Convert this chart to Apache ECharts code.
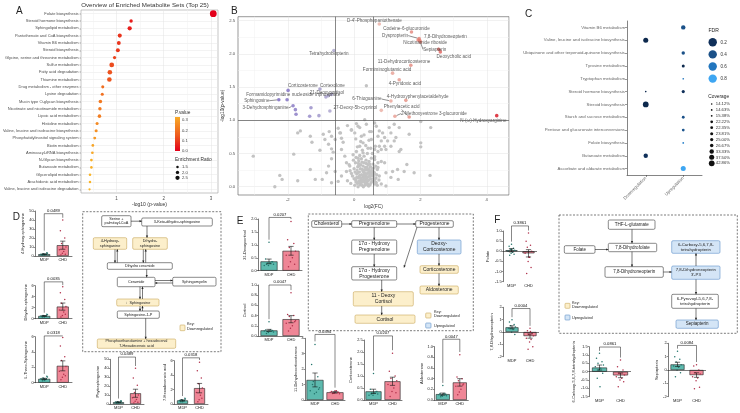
<!DOCTYPE html>
<html>
<head>
<meta charset="utf-8">
<script src="https://cdn.jsdelivr.net/npm/echarts@6/dist/echarts.min.js"></script>
<style>
html,body{margin:0;padding:0;background:#ffffff;}
#c{width:740px;height:413px;}
</style>
</head>
<body>
<div id="c"></div>
<script>
// ================= DATA =================
// ---- Panel A : enriched metabolite sets ----
const aPathways = ['Folate biosynthesis','Steroid hormone biosynthesis','Sphingolipid metabolism','Pantothenate and CoA biosynthesis','Vitamin B6 metabolism','Steroid biosynthesis','Glycine, serine and threonine metabolism','Sulfur metabolism','Fatty acid degradation','Thiamine metabolism','Drug metabolism - other enzymes','Lysine degradation','Mucin type O-glycan biosynthesis','Nicotinate and nicotinamide metabolism','Lipoic acid metabolism','Histidine metabolism','Valine, leucine and isoleucine biosynthesis','Phosphatidylinositol signaling system','Biotin metabolism','Aminoacyl-tRNA biosynthesis','N-Glycan biosynthesis','Butanoate metabolism','Glycerolipid metabolism','Arachidonic acid metabolism','Valine, leucine and isoleucine degradation'];
const aLogP = [3.05,1.31,1.28,1.07,1.05,1.03,0.96,0.90,0.86,0.85,0.71,0.70,0.66,0.65,0.64,0.59,0.57,0.54,0.50,0.49,0.47,0.47,0.44,0.44,0.43];
const aRatio = [4.0,2.0,2.5,2.4,2.3,2.3,1.9,2.8,2.7,2.7,1.8,1.8,2.1,2.0,2.1,1.8,1.8,1.7,1.6,1.6,1.6,1.5,1.5,1.5,1.3];
const aPTicks = [0.3,0.2,0.1,0.0];
const aRatioTicks = [1.5,2.0,2.5];

// ---- Panel B : volcano ----
const bGray = [[-3.04,0.46],[-2.39,0.0],[-2.24,0.17],[-2.17,0.11],[-1.82,0.49],[-1.70,0.09],[-1.70,0.81],[-1.62,0.84],[-1.32,0.76],[-1.27,0.67],[-1.32,0.26],[-1.17,0.11],[-1.03,0.55],[-0.93,0.79],[-0.88,0.71],[-0.96,0.11],[-0.83,0.21],[-0.77,0.64],[-0.75,0.83],[-0.68,0.76],[-0.68,0.57],[-0.63,0.52],[-0.68,0.42],[-0.57,0.71],[-0.48,0.88],[-0.43,0.81],[-0.38,0.73],[-0.33,0.67],[-0.38,0.56],[-0.28,0.46],[-0.23,0.36],[-0.13,0.31],[-0.23,0.23],[-0.38,0.16],[-0.48,0.08],[-0.68,0.06],[-0.57,0.23],[-0.77,0.31],
[-0.08,0.86],[0.02,0.81],[0.12,0.91],[0.22,0.76],[0.27,0.66],[0.17,0.61],[0.07,0.53],[-0.03,0.48],[0.12,0.43],[0.27,0.51],[0.42,0.58],[0.52,0.71],[0.47,0.83],[0.62,0.96],[0.32,1.01],[0.37,1.52],[-0.2,0.92],[-0.08,0.85],[0.07,0.95],[0.17,0.89],[0.37,0.94],[0.52,0.83],[-0.41,0.81],
[0.67,0.91],[0.76,0.84],[0.86,0.81],[0.72,0.76],[0.92,0.74],[0.82,0.69],[1.01,0.69],[0.64,0.61],[0.76,0.61],[0.92,0.61],[0.62,0.56],[0.72,0.53],[0.82,0.56],[0.96,0.56],[1.11,0.61],[1.21,0.69],[1.26,0.74],[1.36,0.89],[1.06,0.89],[1.11,0.81],[1.21,0.94],[1.41,0.56],[1.36,0.53],[1.66,0.79],[2.01,0.66],[2.01,0.60],[2.01,0.98],[2.31,0.89],[1.59,0.335],[1.81,0.21],[2.29,0.17],[1.51,0.23],[1.33,0.11],[1.16,0.23],[0.96,0.21],[0.76,0.16],[0.72,0.29],[0.82,0.38],[0.92,0.36],[0.62,0.41],[0.57,0.23],[0.62,0.11],[0.96,0.01],[0.82,0.04],[0.67,0.06],[1.31,0.26],[1.11,0.14],
[0.02,0.02],[0.1,0.05],[0.18,0.03],[0.25,0.07],[0.32,0.02],[0.4,0.05],[0.48,0.03],[0.55,0.08],[0.62,0.04],[0.7,0.02],
[0.05,0.1],[0.13,0.13],[0.2,0.1],[0.28,0.14],[0.35,0.11],[0.43,0.15],[0.5,0.12],[0.58,0.16],[0.66,0.13],[0.75,0.1],
[-0.05,0.16],[0.08,0.19],[0.16,0.22],[0.23,0.18],[0.31,0.21],[0.38,0.25],[0.46,0.2],[0.53,0.24],[0.61,0.21],[0.7,0.26],
[-0.12,0.24],[0.0,0.27],[0.11,0.3],[0.19,0.27],[0.27,0.31],[0.34,0.29],[0.42,0.33],[0.49,0.3],[0.57,0.34],[0.65,0.31],
[-0.2,0.09],[-0.1,0.05],[-0.15,0.33],[0.04,0.36],[0.14,0.39],[0.24,0.37],[0.36,0.4],[0.45,0.38],[0.52,0.43],[0.3,0.46],
[0.22,0.07],[0.36,0.16],[0.41,0.09],[0.27,0.23],[0.15,0.15],[0.09,0.25],[0.45,0.26],[0.33,0.06],[0.52,0.17],[0.2,0.33],
[0.28,0.0],[0.44,0.01],[0.12,0.0],[0.6,0.28],[0.37,0.35],[0.06,0.44],[-0.02,0.4],[0.17,0.47],[0.4,0.5],[0.25,0.55],
[0.1,0.6],[0.35,0.62],[0.5,0.58],[0.2,0.68],[0.45,0.7],[0.3,0.78],[0.05,0.72],[0.55,0.5],[0.62,0.45],[0.72,0.36],
[0.06,0.07],[0.14,0.08],[0.21,0.13],[0.29,0.09],[0.37,0.04],[0.45,0.1],[0.51,0.06],[0.59,0.12],[0.24,0.02],[0.17,0.17],
[0.33,0.18],[0.4,0.2],[0.48,0.16],[0.56,0.2],[0.11,0.21],[0.03,0.22],[0.25,0.26],[0.32,0.25],[0.39,0.29],[0.47,0.34],
[0.54,0.28],[0.16,0.32],[0.08,0.14],[0.42,0.02],[0.35,0.08],[0.19,0.06],[0.27,0.17],[0.44,0.24],[0.6,0.19],[0.68,0.18],
[0.64,0.07],[0.0,0.12],[-0.08,0.2],[0.13,0.35],[0.3,0.36],[0.22,0.42],[0.5,0.22],[0.38,0.13],[0.26,0.1],[0.31,0.14]];
const bUpNames = ["D-4'-Phosphopantothenate","Codeine-6-glucuronide","Dyspropterin","7,8-Dihydroneopterin","Nicotinamide riboside","Sepiapterin","Deoxycholic acid","","11-Dehydrocorticosterone","Formiminoglutamic acid","4-Pyridoxic acid","4-Hydroxyphenylacetaldehyde","6-Thioguanine","Phenylacetic acid","27-Deoxy-5b-cyprinol","2-Methoxyestrone 3-glucuronide","N-(\u03c9)-Hydroxyarginine"];
const bUpFC   = [0.76,1.73,1.96,2.00,1.93,1.98,2.60,2.55,1.71,1.16,1.36,1.56,1.11,1.66,0.82,1.23,4.30];
const bUpLogP = [2.45,2.33,2.23,2.18,2.21,2.20,2.03,2.07,1.83,1.71,1.61,1.30,1.29,1.05,1.15,1.06,1.07];
const bDownNames = ["Tetrahydrobiopterin","Corticosterone","Cortexolone","21-Deoxycortisol","Formamidopyrimidine nucleoside triphosphate","Sphingosine","3-Dehydrosphinganine","","","","","","","",""];
const bDownFC   = [-0.61,-1.99,-1.03,-0.85,-0.78,-2.27,-1.84,-2.02,-1.77,-1.75,-1.34,-1.06,-1.30,-0.73,-0.68];
const bDownLogP = [2.05,1.45,1.47,1.35,1.37,1.31,1.22,1.31,1.16,1.09,1.06,1.07,1.19,1.14,1.39];
const bFcCut = Math.log2(1.5);
const bPCut = 1;

// ---- Panel C : up / down pathways ----
const cPathways = ['Vitamin B6 metabolism','Valine, leucine and isoleucine biosynthesis','Ubiquinone and other terpenoid-quinone biosynthesis','Tyrosine metabolism','Tryptophan metabolism','Steroid hormone biosynthesis','Steroid biosynthesis','Starch and sucrose metabolism','Pentose and glucuronate interconversions','Folate biosynthesis','Butanoate metabolism','Ascorbate and aldarate metabolism'];
const cDirections = ['Downregulation','Upregulation'];
const cPoints = [
 ['Vitamin B6 metabolism','Upregulation',0.40,33.33],
 ['Valine, leucine and isoleucine biosynthesis','Downregulation',0.15,37.50],
 ['Ubiquinone and other terpenoid-quinone biosynthesis','Upregulation',0.40,26.67],
 ['Tyrosine metabolism','Upregulation',0.15,23.81],
 ['Tryptophan metabolism','Upregulation',0.60,14.63],
 ['Steroid hormone biosynthesis','Downregulation',0.15,14.12],
 ['Steroid hormone biosynthesis','Upregulation',0.20,25.00],
 ['Steroid biosynthesis','Downregulation',0.15,42.86],
 ['Starch and sucrose metabolism','Upregulation',0.40,22.22],
 ['Pentose and glucuronate interconversions','Upregulation',0.42,22.35],
 ['Folate biosynthesis','Upregulation',0.65,15.38],
 ['Butanoate metabolism','Downregulation',0.20,33.33],
 ['Ascorbate and aldarate metabolism','Upregulation',0.80,37.50]
];
const cFdrTicks = [0.2,0.4,0.6,0.8];
const cCoverageTicks = [14.12,14.63,15.38,22.22,22.35,23.81,25.00,26.67,33.33,37.50,42.86];

// ---- Panels D, E, F : bar charts ----
const barGroups = ['MDP','CHD'];
const barNames = ['4-Hydroxy-sphinganine','Dihydro-sphingosine','L-Threo-Sphingosine','Phytosphingosine','7-Hexadecenoic acid','21-Deoxycortisol','Cortisol','11-Dehydrocorticosterone','Corticosterone','Aldosterone','Folate','7,8-Dihydroneopterin','6-Carboxy-5,6,7,8-tetrahydropterin','Sepiapterin'];
const barPLabels = ['0.0489','0.0035','0.0318','0.0489','0.0318','0.0207','0.0047','0.0494','0.0207','0.0047','0.3861','0.0004','0.0861','0.0084'];
const barYMin  = [0,0,0,0,0,0,0,0,0,0,-1.5,-2,-1.5,-2];
const barYMax  = [50,6,6,50,6,2,1,4,2.5,1,1,2,1.5,2];
const barYStep = [10,2,2,10,2,0.5,0.2,1,0.5,0.2,0.5,1,0.5,1];
const barMeanMDP = [2,0.5,0.5,2,0.5,0.36,0.11,1.3,0.36,0.11,0.05,0.38,0.25,0.42];
const barMeanCHD = [12,2.2,2.2,12,2.2,0.77,0.33,0.5,0.78,0.33,-0.1,-0.33,-0.22,-0.38];
const barSemMDP  = [0.5,0.08,0.08,0.5,0.08,0.09,0.02,0.45,0.09,0.02,0.08,0.12,0.15,0.16];
const barSemCHD  = [4.5,0.65,0.65,4.5,0.65,0.17,0.07,0.05,0.17,0.07,0.18,0.17,0.14,0.17];
const barPtsMDP = [
 [1,1.5,2,2.5,3,2,1.8,2.2,3.5,1.2],
 [0.3,0.4,0.5,0.6,0.7,0.5,0.45,0.55,0.8,0.3],
 [0.3,0.45,0.5,0.6,0.75,0.5,0.4,0.55,0.85,0.25],
 [1,1.4,2,2.6,3,2.1,1.7,2.3,3.6,1.1],
 [0.3,0.4,0.5,0.6,0.7,0.5,0.45,0.55,0.8,0.3],
 [1.1,0.45,0.35,0.3,0.25,0.2,0.3,0.2,0.35,0.25],
 [0.28,0.12,0.1,0.09,0.08,0.1,0.12,0.07,0.11,0.05],
 [3.6,2.3,1.5,1.2,0.8,0.6,0.5,0.4,0.7,1.0],
 [1.1,0.45,0.35,0.3,0.25,0.2,0.3,0.2,0.35,0.25],
 [0.27,0.12,0.11,0.09,0.08,0.1,0.12,0.07,0.11,0.06],
 [0.35,0.25,0.15,0.1,0.05,0,-0.05,-0.1,-0.15,-0.2,0.1],
 [1.0,0.8,0.6,0.5,0.4,0.3,0.2,0.0,-0.2,0.3],
 [1.1,0.8,0.6,0.5,0.4,0.3,0.2,0.1,-0.1,-0.4,-0.9],
 [1.4,1.0,0.8,0.6,0.4,0.3,0.2,0.0,-0.2,-0.5]
];
const barPtsCHD = [
 [40,28,20,14,10,7,5,3,2,1],
 [5.8,4.7,3.5,2.8,2.2,1.6,1.2,0.6,0.8,0.3],
 [5.9,4.8,3.4,2.9,2.1,1.5,1.1,0.7,0.9,0.4],
 [40,29,21,13,10,7,5,3,2,1],
 [5.8,4.6,3.6,2.8,2.2,1.6,1.2,0.6,0.8,0.3],
 [1.9,1.2,1.05,0.9,0.75,0.6,0.5,0.35,0.25,0.15],
 [0.85,0.42,0.4,0.38,0.3,0.25,0.2,0.15,0.28,0.1],
 [0.6,0.55,0.5,0.45,0.4,0.5,0.6,0.45,0.5,0.42],
 [1.95,1.2,1.0,0.9,0.8,0.65,0.5,0.35,0.3,0.15],
 [0.85,0.43,0.4,0.36,0.3,0.26,0.2,0.15,0.28,0.1],
 [0.9,0.5,0.3,0.2,0,-0.1,-0.3,-0.5,-0.8,-1.1,-0.3],
 [0.3,0.1,-0.1,-0.2,-0.3,-0.5,-0.6,-0.8,-1.2,-1.4,0.05],
 [0.7,0.3,0.1,-0.1,-0.2,-0.3,-0.4,-0.5,-0.6,-0.9],
 [0.4,0.3,0.0,-0.2,-0.3,-0.5,-0.6,-0.8,-1.3,-1.4]
];
const barBracketY = [47,6.7,6.1,52.5,6.4,2.06,1.0,4.25,2.67,1.14,1.25,1.9,1.48,1.84];

// ================= STYLE / LAYOUT =================
const FONT = 'Liberation Sans, Arial, Helvetica, sans-serif';
const MDP_COLOR = '#5dbaae', CHD_COLOR = '#ef8696';
const MDP_DOT = '#22746b', CHD_DOT = '#b02f4a';
// [left, top, width, height, barWidth]
const barLayout = [
 [35,211,37,45,12],[35,285.7,37,33,12],[35,336.7,37,46,12],[110,359.3,34,44.7,11],[174,360.7,34,43.3,11],
 [258,219,44,51.7,17],[258,285,44,51,17],[305,338.3,40,61.7,17],[364,340,38,60,16],[434.3,346.7,34,53.3,14],
 [503,231,34,50.7,12],[503,307.3,36,49.4,13],[589,346.7,42,50,15],[668,343.3,38,53.4,14]
];
// volcano label placement: [dx, dy, connector]
const bLabelPlace = {
 "D-4'-Phosphopantothenate":[-5,-3.5,0], "Codeine-6-glucuronide":[-5,-3,0], "Dyspropterin":[-24,-3,1],
 "7,8-Dihydroneopterin":[25,-5.5,0], "Nicotinamide riboside":[7,2.7,0], "Sepiapterin":[15,9,1],
 "Deoxycholic acid":[13.4,4.4,0], "11-Dehydrocorticosterone":[-6.8,-3.4,0], "Formiminoglutamic acid":[-5.5,-3,0],
 "4-Pyridoxic acid":[5.7,3.7,0], "4-Hydroxyphenylacetaldehyde":[11.8,-3.7,0], "6-Thioguanine":[-24,-2,1],
 "Phenylacetic acid":[-7.5,-10,1], "27-Deoxy-5b-cyprinol":[-26,-3,0], "2-Methoxyestrone 3-glucuronide":[39,-2.7,1],
 "N-(\u03c9)-Hydroxyarginine":[-13.4,4.7,0], "Tetrahydrobiopterin":[-5,3.6,0], "Corticosterone":[14.8,-5,0],
 "Cortexolone":[12.5,-3.6,0], "21-Deoxycortisol":[1,-4.5,0], "Formamidopyrimidine nucleoside triphosphate":[-35,-1,0],
 "Sphingosine":[-22,1,1], "3-Dehydrosphinganine":[-27.5,2.3,1]
};

function hexToRgb(h){h=h.replace('#','');return [parseInt(h.slice(0,2),16),parseInt(h.slice(2,4),16),parseInt(h.slice(4,6),16)];}
function ramp(stops, v){
  if (v <= stops[0][0]) return stops[0][1];
  for (let i=1;i<stops.length;i++){
    if (v <= stops[i][0]){
      const a=stops[i-1], b=stops[i], t=(v-a[0])/(b[0]-a[0]);
      const ca=hexToRgb(a[1]), cb=hexToRgb(b[1]);
      return 'rgb('+ca.map((c,j)=>Math.round(c+(cb[j]-c)*t)).join(',')+')';
    }
  }
  return stops[stops.length-1][1];
}
const pStops = [[0,'#e3001b'],[0.15,'#ee5a1e'],[0.35,'#f9b428']];
const fdrStops = [[0.1,'#0a2140'],[0.2,'#10305a'],[0.4,'#1b5188'],[0.6,'#2276be'],[0.8,'#3ea6f2']];
const upStops = [[0.6,'#ebb5aa'],[2.0,'#e27a6e'],[4.3,'#d7101e']];
const downStops = [[0.6,'#aaa4cc'],[2.3,'#7360bd']];
const ratioSize = r => r*1.7;
const covSize = c => 1.6 + (c-14)/(43-14)*4.2;
function splitColors(pattern){ return pattern.map(k => k==='M' ? '#e2e2e2' : (k==='m' ? '#f0f0f0' : 'rgba(0,0,0,0)')); }

// ================= BUILD =================
const grids=[], xAxes=[], yAxes=[], series=[], G=[];

// ---- A ----
grids.push({left:81, top:10, width:137, height:183, show:true, borderColor:'#a0a0a0', borderWidth:0.6});
xAxes.push({gridIndex:0, type:'value', min:0.25, max:3.15, interval:0.25,
  axisLine:{show:false}, axisTick:{show:false},
  axisLabel:{fontSize:4.5, color:'#4d4d4d', margin:3, fontFamily:FONT, formatter:v => Number.isInteger(v) ? String(v) : ''},
  splitLine:{show:true, lineStyle:{color:splitColors(['n','m','n','M']), width:0.5}},
  name:'-log10 (p-value)', nameLocation:'middle', nameGap:8, nameTextStyle:{fontSize:5, color:'#333', fontFamily:FONT}});
yAxes.push({gridIndex:0, type:'category', data:aPathways, inverse:true,
  axisLine:{show:false}, axisTick:{show:true, alignWithLabel:true, interval:0, length:1.5, lineStyle:{color:'#444', width:0.4}},
  axisLabel:{fontSize:4, color:'#4d4d4d', margin:2.5, interval:0, fontFamily:FONT},
  splitLine:{show:true, alignWithLabel:true, interval:0, lineStyle:{color:'#e6e6e6', width:0.5}}});
series.push({type:'scatter', xAxisIndex:0, yAxisIndex:0, silent:true, z:3,
  data: aPathways.map((n,i)=>[aLogP[i], n]),
  symbolSize:(v,p)=>ratioSize(aRatio[p.dataIndex]),
  itemStyle:{opacity:1, color:p=>ramp(pStops, Math.pow(10,-aLogP[p.dataIndex]))}});

// ---- B ----
grids.push({left:238, top:16.7, width:271, height:178.3, show:true, borderColor:'#555', borderWidth:0.6});
xAxes.push({gridIndex:1, type:'value', min:-3.5, max:4.67, interval:0.5,
  axisLine:{show:false}, axisTick:{show:false},
  axisLabel:{fontSize:4.2, color:'#4d4d4d', margin:3, fontFamily:FONT, formatter:v => (v % 2 === 0) ? String(v) : ''},
  splitLine:{show:true, lineStyle:{color:splitColors(['n','m','n','M']), width:0.5}},
  name:'log2(FC)', nameLocation:'middle', nameGap:9, nameTextStyle:{fontSize:4.8, color:'#333', fontFamily:FONT}});
yAxes.push({gridIndex:1, type:'value', min:-0.125, max:2.56, interval:0.125,
  axisLine:{show:false}, axisTick:{show:false},
  axisLabel:{fontSize:4.2, color:'#4d4d4d', margin:3, fontFamily:FONT, formatter:v => (v>=0 && Math.abs(v*2-Math.round(v*2))<1e-9) ? v.toFixed(1) : ''},
  splitLine:{show:true, lineStyle:{color:splitColors(['n','M','n','m']), width:0.5}},
  name:'-log10(p-value)', nameLocation:'middle', nameGap:10, nameTextStyle:{fontSize:4.8, color:'#333', fontFamily:FONT}});
series.push({type:'scatter', xAxisIndex:1, yAxisIndex:1, silent:true, z:2, data:bGray, symbolSize:3.4,
  itemStyle:{color:'#c3c3c3', opacity:1},
  markLine:{silent:true, symbol:'none', animation:false, label:{show:false},
    lineStyle:{color:'#555', width:0.7, type:'solid'},
    data:[{xAxis:-bFcCut},{xAxis:bFcCut},{yAxis:bPCut}]}});
function volcanoItems(names, fc, lp, stops){
  return names.map((n,i)=>{
    const pl = bLabelPlace[n];
    return {name:n, value:[fc[i], lp[i]],
      itemStyle:{color:ramp(stops, Math.abs(fc[i]))},
      label:{show:!!pl, position:'inside', formatter:n, fontSize:4.6, color:'#333', fontFamily:FONT},
      labelLine:{show:!!(pl && pl[2]), lineStyle:{color:'#222', width:0.5}}};
  });
}
function volcanoLayout(names){
  return p => { const pl = bLabelPlace[names[p.dataIndex]]; return pl ? {dx:pl[0], dy:pl[1]} : {}; };
}
series.push({type:'scatter', xAxisIndex:1, yAxisIndex:1, silent:true, z:4, symbolSize:3.6,
  data:volcanoItems(bUpNames,bUpFC,bUpLogP,upStops), labelLayout:volcanoLayout(bUpNames),
  labelLine:{show:false, smooth:false, length2:0}});
series.push({type:'scatter', xAxisIndex:1, yAxisIndex:1, silent:true, z:4, symbolSize:3.6,
  data:volcanoItems(bDownNames,bDownFC,bDownLogP,downStops), labelLayout:volcanoLayout(bDownNames),
  labelLine:{show:false, smooth:false, length2:0}});

// ---- C ----
grids.push({left:627, top:21, width:75, height:154});
xAxes.push({gridIndex:2, type:'category', data:cDirections,
  axisLine:{lineStyle:{color:'#333', width:0.6}}, axisTick:{show:true, length:2, alignWithLabel:true, lineStyle:{color:'#333', width:0.5}},
  axisLabel:{rotate:45, fontSize:4.4, color:'#666', margin:2.5, interval:0, fontFamily:FONT}, splitLine:{show:false}});
yAxes.push({gridIndex:2, type:'category', data:cPathways, inverse:true,
  axisLine:{lineStyle:{color:'#333', width:0.6}}, axisTick:{show:true, length:2, alignWithLabel:true, interval:0, lineStyle:{color:'#333', width:0.5}},
  axisLabel:{fontSize:4.3, color:'#666', margin:2, interval:0, fontFamily:FONT}, splitLine:{show:false}});
series.push({type:'scatter', xAxisIndex:2, yAxisIndex:2, silent:true, z:3,
  data:cPoints.map(p=>[p[1], p[0], p[2], p[3]]),
  symbolSize:v=>covSize(v[3]),
  itemStyle:{opacity:1, color:p=>ramp(fdrStops, p.value[2])}});

// ---- Bar charts ----
const jit = [0,-0.6,0.5,-0.3,0.8,-0.85,0.25,-0.1,0.65,-0.45,0.1];
barNames.forEach((nm,k)=>{
  const L = barLayout[k], gi = grids.length;
  const dec = barYStep[k] < 1 ? 1 : 0;
  const neg = barYMin[k] < 0;
  const maxLab = Math.max(barYMax[k].toFixed(dec).length, barYMin[k].toFixed(dec).length);
  grids.push({left:L[0], top:L[1], width:L[2], height:L[3]});
  xAxes.push({gridIndex:gi, type:'category', data:barGroups,
    axisLine:{show:!neg, onZero:false, lineStyle:{color:'#222', width:0.6}},
    axisTick:{show:false}, splitLine:{show:false},
    axisLabel:{fontSize:4, color:'#222', margin:2, interval:0, fontFamily:FONT}});
  yAxes.push({gridIndex:gi, type:'value', min:barYMin[k], max:barYMax[k], interval:barYStep[k],
    axisLine:{show:true, lineStyle:{color:'#222', width:0.6}},
    axisTick:{show:true, length:1.5, lineStyle:{color:'#222', width:0.5}},
    axisLabel:{fontSize:3.8, color:'#222', margin:1.5, fontFamily:FONT, formatter:v=>v.toFixed(dec)},
    splitLine:{show:false},
    name:nm, nameLocation:'middle', nameGap:maxLab*2.1+4.5, nameTextStyle:{fontSize:4, color:'#222', fontFamily:FONT}});
  const bar = {type:'bar', xAxisIndex:gi, yAxisIndex:gi, silent:true, barWidth:L[4], z:2,
    itemStyle:{borderColor:'#222', borderWidth:0.6},
    data:[{value:barMeanMDP[k], itemStyle:{color:MDP_COLOR}}, {value:barMeanCHD[k], itemStyle:{color:CHD_COLOR}}]};
  if (neg) bar.markLine = {silent:true, symbol:'none', animation:false, label:{show:false},
    lineStyle:{color:'#222', width:0.6, type:'solid'}, data:[{yAxis:0}]};
  series.push(bar);
  // points
  const pts = [];
  barPtsMDP[k].forEach((v,i)=>pts.push([0,v,i]));
  barPtsCHD[k].forEach((v,i)=>pts.push([1,v,i]));
  series.push({type:'custom', xAxisIndex:gi, yAxisIndex:gi, silent:true, z:4, clip:false, data:pts,
    renderItem:(params, api)=>{
      const c = api.coord([api.value(0), api.value(1)]);
      const off = jit[api.value(2) % jit.length] * L[4] * 0.33;
      return {type:'circle', shape:{cx:c[0]+off, cy:c[1], r:0.75},
        style:{fill: api.value(0)===0 ? MDP_DOT : CHD_DOT}};
    }});
  // error bars
  series.push({type:'custom', xAxisIndex:gi, yAxisIndex:gi, silent:true, z:5, clip:false,
    data:[[0,barMeanMDP[k],barSemMDP[k]],[1,barMeanCHD[k],barSemCHD[k]]],
    renderItem:(params, api)=>{
      const c=api.value(0), m=api.value(1), s=api.value(2);
      const t=api.coord([c,m+s]), b=api.coord([c,m-s]), w=2.6;
      const st={stroke:'#111', lineWidth:0.6};
      return {type:'group', children:[
        {type:'line', shape:{x1:t[0],y1:t[1],x2:b[0],y2:b[1]}, style:st},
        {type:'line', shape:{x1:t[0]-w,y1:t[1],x2:t[0]+w,y2:t[1]}, style:st},
        {type:'line', shape:{x1:b[0]-w,y1:b[1],x2:b[0]+w,y2:b[1]}, style:st}]};
    }});
  // significance bracket
  const pad = 0.05*(barYMax[k]-barYMin[k]);
  const leftEnd = Math.max(Math.max.apply(null,barPtsMDP[k]), barMeanMDP[k]+barSemMDP[k]) + pad;
  const rightEnd = Math.max(Math.max.apply(null,barPtsCHD[k]), barMeanCHD[k]+barSemCHD[k]) + pad;
  series.push({type:'custom', xAxisIndex:gi, yAxisIndex:gi, silent:true, z:5, clip:false,
    data:[[0, barBracketY[k], Math.min(leftEnd, barBracketY[k]), Math.min(rightEnd, barBracketY[k])]],
    renderItem:(params, api)=>{
      const y=api.value(1);
      const a=api.coord([0,y]), b=api.coord([1,y]);
      const la=api.coord([0,api.value(2)]), lb=api.coord([1,api.value(3)]);
      return {type:'group', children:[
        {type:'polyline', shape:{points:[[a[0],la[1]],[a[0],a[1]],[b[0],b[1]],[b[0],lb[1]]]}, style:{stroke:'#111', lineWidth:0.5, fill:null}},
        {type:'text', style:{text:barPLabels[k], x:(a[0]+b[0])/2, y:a[1]-0.8, fill:'#111', fontSize:4.2, fontFamily:FONT,
          align:'center', verticalAlign:'bottom', textAlign:'center', textVerticalAlign:'bottom'}}]};
    }});
});

// ================= GRAPHIC (titles, legends, pathway diagrams) =================
function T(x,y,s,fs,o){
  o=o||{}; const al=o.align||'left', va=o.va||'middle';
  G.push({type:'text', silent:true, z:20, x:x, y:y, rotation:o.rot||0,
    style:{text:s, x:0, y:0, fill:o.color||'#222', fontSize:fs, fontFamily:FONT, fontWeight:o.weight||'normal',
      align:al, verticalAlign:va, textAlign:al, textVerticalAlign:va, lineHeight:fs*1.18}});
}
function R(x1,y1,x2,y2,fill,stroke,dash,r){
  G.push({type:'rect', silent:true, z:15, shape:{x:x1,y:y1,width:x2-x1,height:y2-y1,r:r||0},
    style:{fill:fill, stroke:stroke, lineWidth:dash?0.7:0.6, lineDash:dash||null}});
}
function C(x,y,r,fill){ G.push({type:'circle', silent:true, z:20, shape:{cx:x,cy:y,r:r}, style:{fill:fill}}); }
const WH={f:'#ffffff',s:'#3a3a3a'}, YE={f:'#fcefcb',s:'#c9a75c'}, BL={f:'#d4e5f6',s:'#5f90c9'};
function box(x1,y1,x2,y2,st,label,fs){ R(x1,y1,x2,y2,st.f,st.s,null,1.3); T((x1+x2)/2,(y1+y2)/2,label,fs,{align:'center'}); }
function head(tx,ty,fx,fy){
  const a=Math.atan2(ty-fy,tx-fx), Lh=2.2, W=1.1;
  const bx=tx-Lh*Math.cos(a), by=ty-Lh*Math.sin(a);
  G.push({type:'polygon', silent:true, z:16, shape:{points:[[tx,ty],[bx+W*Math.sin(a),by-W*Math.cos(a)],[bx-W*Math.sin(a),by+W*Math.cos(a)]]}, style:{fill:'#222'}});
}
function arrow(x1,y1,x2,y2,both){
  G.push({type:'line', silent:true, z:16, shape:{x1:x1,y1:y1,x2:x2,y2:y2}, style:{stroke:'#222', lineWidth:0.6}});
  head(x2,y2,x1,y1); if (both) head(x1,y1,x2,y2);
}

// panel letters
T(16,11,'A',10); T(231,11,'B',10); T(525,14,'C',10); T(12.7,217.5,'D',10); T(236.7,221,'E',10); T(494.3,220,'F',10);
// A title + legend
T(145,5.5,'Overview of Enriched Metabolite Sets (Top 25)',6.2,{align:'center', color:'#333'});
T(175,113,'P.value',4.8,{color:'#333'});
G.push({type:'rect', silent:true, z:20, shape:{x:175,y:117,width:5,height:34},
  style:{fill:new echarts.graphic.LinearGradient(0,0,0,1,[
    {offset:0,color:ramp(pStops,0.33)},{offset:0.55,color:ramp(pStops,0.15)},{offset:1,color:ramp(pStops,0)}])}});
aPTicks.forEach(p=>{ const y=151-p/0.33*34; T(182,y,p.toFixed(1),4.2,{color:'#444'}); });
T(175,160,'Enrichment Ratio',4.8,{color:'#333'});
aRatioTicks.forEach((r,i)=>{ const y=167+i*5.4; C(177.5,y,ratioSize(r)/2,'#111'); T(182,y,r.toFixed(1),4.2,{color:'#444'}); });
// C legend
T(708.5,31,'FDR',5,{color:'#222'});
cFdrTicks.forEach((f,i)=>{ const y=42.3+i*12.1; C(712.7,y,4.2,ramp(fdrStops,f)); T(720.5,y,f.toFixed(1),4.6,{color:'#333'}); });
T(708.3,96.5,'Coverage',4.8,{color:'#222'});
cCoverageTicks.forEach((c,i)=>{ const y=104+i*5.93; C(711.7,y,covSize(c)/2,'#111'); T(715.8,y,c.toFixed(2)+'%',4.2,{color:'#333'}); });

// D pathway diagram
R(82.7,211.7,221,351.7,'none','#444',[2,1.5]);
box(101.7,215.7,131,226.7,WH,'Serine +\npalmitoyl-CoA',3.8);
box(141.7,218,212.3,226,WH,'3-Keto-dihydro-sphingosine',3.8);
box(93.3,237.7,126.7,249.3,YE,'4-Hydroxy-\nsphinganine',3.8);
box(132.7,237.7,167.3,249.3,YE,'Dihydro-\nsphingosine',3.8);
box(107.3,262.7,172.3,269.3,WH,'Dihydro ceramide',3.8);
box(117.3,277.3,155,286.7,WH,'Ceramide',3.8);
box(172.7,277.3,216,286,WH,'Sphingomyelin',3.8);
box(116.7,299,159,306,YE,'\u2193  Sphingosine',3.8);
box(117.3,311,159.3,318.3,WH,'Sphingosine-1-P',3.8);
box(97.3,339,175.7,348.3,YE,'Phosphoethanolamine + hexadecenal\n7-Hexadecenoic acid',3.7);
arrow(131,221.2,141.7,221.2);
arrow(147,226,147,237.7);
arrow(115,249.3,115,262.7); arrow(117.3,262.7,117.3,249.3);
arrow(143.3,249.3,143.3,262.7); arrow(145.7,262.7,145.7,249.3);
arrow(146.7,269.3,146.7,277.3);
arrow(155,280.5,172.7,280.5); arrow(172.7,283,155,283);
arrow(140,286.7,140,299); arrow(142.5,299,142.5,286.7);
arrow(140,306,140,311); arrow(142.5,311,142.5,306);
arrow(145.7,318.3,145.7,339);
R(180,325,185,330.7,YE.f,YE.s,null,0.8);
T(187,324.2,'Key:',3.8); T(187,328.8,'Downregulated',3.8);

// E pathway diagram
R(308.3,214,473.3,330.7,'none','#444',[2,1.5]);
box(311.7,220.7,341.7,227.3,WH,'Cholesterol',5);
box(351.7,220.7,396.7,227.3,WH,'Pregnenolone',5);
box(415.7,220.7,453.3,227.3,WH,'Progesterone',5);
box(351.7,240,396.7,254,WH,'17\u03b1 - Hydroxy\nPregnenolone',5);
box(417.3,240,461,254,BL,'Deoxy-\nCorticosterone',5);
box(351.7,266.7,396.7,280,WH,'17\u03b1 - Hydroxy\nProgesterone',5);
box(420,265.7,458.3,273.3,YE,'Corticosterone',5);
box(420,286,458.3,294,YE,'Aldosterone',5);
box(353.3,291.7,413.3,306,YE,'11 - Deoxy\nCortisol',5);
box(355,315,415,323.3,YE,'Cortisol',5);
arrow(341.7,224,351.7,224);
arrow(396.7,224,415.7,224);
arrow(374.2,227.3,374.2,240);
arrow(374.2,254,374.2,266.7);
arrow(417,227.3,404,267.5);
arrow(439,227.3,439,240);
arrow(439,254,439,265.7);
arrow(439,273.3,439,286);
arrow(381.7,280,381.7,291.7);
arrow(381.7,306,381.7,315);
R(425.7,313,431,318,YE.f,YE.s,null,0.8);
T(434,312.3,'Key:',3.8); T(434,316.3,'Downregulated',3.8);
R(425.7,323,431,328,BL.f,BL.s,null,0.8);
T(434,325.5,'Upregulated',3.8);

// F pathway diagram
R(559,215,737.3,333.3,'none','#444',[2,1.5]);
box(608.3,220,655,229.3,WH,'THF-L-glutamate',4.5);
box(564.3,245.7,595,253.3,WH,'Folate',4.5);
box(608.3,243.3,656.7,251.7,WH,'7,8-Dihydrofolate',4.5);
box(671.7,240.7,720,253.3,BL,'6-Carboxy-5,6,7,8-\ntetrahydropterin',4.3);
box(605,266.7,663.3,277.3,WH,'7,8-Dihydroneopterin',4.5);
box(671.7,266,720,279.3,BL,'7,8-Dihydroneopterin\n3\'-P3',4.3);
box(671.7,294.3,718.3,308.3,WH,'6-Pyruvoyl-5,6,7,8-\ntetrahydropterin',4.3);
box(676,320,718.3,328.3,BL,'Sepiapterin',4.5);
arrow(632,229.3,632,243.3);
arrow(595,249.5,608.3,249.5);
arrow(632,251.7,632,266.7);
arrow(663.3,272,671.7,272);
arrow(696,266,696,253.3);
arrow(696,279.3,696,294.3);
arrow(696,308.3,696,320);
R(565,303.3,570,308.3,YE.f,YE.s,null,0.8);
T(572,302.6,'Key:',3.8); T(572,306.6,'Downregulated',3.8);
R(565,315,570,320,BL.f,BL.s,null,0.8);
T(572,317.5,'Upregulated',3.8);

// ================= RENDER =================
const chart = echarts.init(document.getElementById('c'), null, {renderer:'canvas', width:740, height:413});
chart.setOption({
  animation:false,
  backgroundColor:'#ffffff',
  textStyle:{fontFamily:FONT},
  grid:grids, xAxis:xAxes, yAxis:yAxes, series:series,
  graphic:{elements:G}
});
</script>
</body>
</html>
